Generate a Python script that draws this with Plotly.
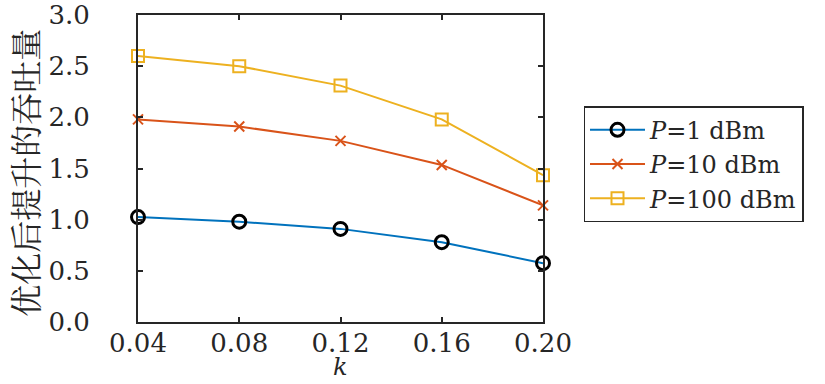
import plotly.graph_objects as go

k_values = [0.04, 0.08, 0.12, 0.16, 0.20]
p1_dbm = [1.025, 0.98, 0.91, 0.78, 0.575]
p10_dbm = [1.98, 1.91, 1.77, 1.535, 1.14]
p100_dbm = [2.60, 2.50, 2.31, 1.98, 1.435]
x_ticks = [0.04, 0.08, 0.12, 0.16, 0.20]
x_tick_labels = ["0.04", "0.08", "0.12", "0.16", "0.20"]
y_ticks = [0.0, 0.5, 1.0, 1.5, 2.0, 2.5, 3.0]
y_tick_labels = ["0.0", "0.5", "1.0", "1.5", "2.0", "2.5", "3.0"]
series_names = ["<i>P</i>=1 dBm", "<i>P</i>=10 dBm", "<i>P</i>=100 dBm"]
x_title = "<i>k</i>"
y_title = "优化后提升的吞吐量"

FONT = "DejaVu Serif"
CJK = "Noto Serif CJK SC, Noto Sans CJK SC"
INK = "#262626"

fig = go.Figure()
fig.add_trace(go.Scatter(
    x=k_values, y=p1_dbm, name=series_names[0], mode="lines+markers",
    line=dict(color="#0072BD", width=2),
    marker=dict(symbol="circle-open", size=13, color="black", line=dict(width=3, color="black")),
    cliponaxis=False,
))
fig.add_trace(go.Scatter(
    x=k_values, y=p10_dbm, name=series_names[1], mode="lines+markers",
    line=dict(color="#D95319", width=2),
    marker=dict(symbol="x-thin-open", size=10, color="#D95319", line=dict(width=2, color="#D95319")),
    cliponaxis=False,
))
fig.add_trace(go.Scatter(
    x=k_values, y=p100_dbm, name=series_names[2], mode="lines+markers",
    line=dict(color="#EDB120", width=2),
    marker=dict(symbol="square-open", size=12, color="#EDB120", line=dict(width=2, color="#EDB120")),
    cliponaxis=False,
))

axis_common = dict(
    showline=True, linecolor=INK, linewidth=2, mirror="ticks",
    ticks="inside", ticklen=5, tickwidth=1.5, tickcolor=INK,
    showgrid=False, zeroline=False, automargin=False,
    ticklabeloverflow="allow",
    tickfont=dict(family=FONT, size=26, color=INK),
)

fig.update_xaxes(
    range=[0.04, 0.20], tickvals=x_ticks, ticktext=x_tick_labels,
    ticklabelstandoff=-3,
    **axis_common,
)
fig.update_yaxes(
    range=[0, 3.0], tickvals=y_ticks, ticktext=y_tick_labels,
    ticklabelstandoff=41,
    **axis_common,
)

fig.add_annotation(
    text=x_title, xref="paper", yref="paper", x=0.5, y=-0.2,
    xanchor="center", yanchor="bottom", showarrow=False,
    font=dict(family=FONT, size=24, color=INK),
)
fig.add_annotation(
    text=y_title, xref="paper", yref="paper", x=-0.28, y=0.485,
    xanchor="center", yanchor="middle", showarrow=False, textangle=-90,
    font=dict(family=CJK, size=32, color=INK),
)

fig.update_layout(
    width=825, height=384,
    margin=dict(l=138, r=282, t=15, b=62),
    paper_bgcolor="white", plot_bgcolor="white",
    showlegend=True,
    legend=dict(
        x=1.10, y=0.514, xanchor="left", yanchor="middle",
        bgcolor="white", bordercolor=INK, borderwidth=1.5,
        font=dict(family=FONT, size=24, color=INK),
        tracegroupgap=0, itemwidth=55,
    ),
)

fig.write_html("out.html", config={"displayModeBar": False},
               post_script="document.body.style.margin='0';")
